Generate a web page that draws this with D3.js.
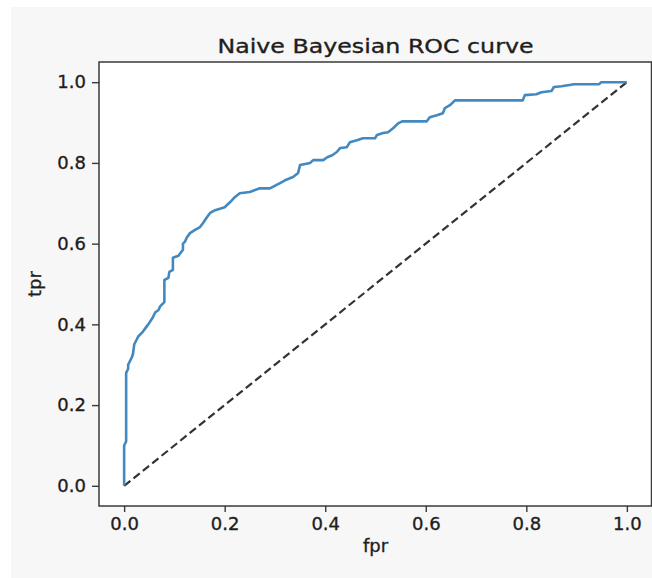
<!DOCTYPE html>
<html lang="en">
  <head>
    <meta charset="UTF-8" />
    <title>Naive Bayesian ROC curve</title>
    <script src="https://cdn.jsdelivr.net/npm/d3@7/dist/d3.min.js"></script>
    <style>
      body { margin: 0; background: #ffffff; }
      text { font-family: "DejaVu Sans", sans-serif; fill: #1e1e1e; stroke: #1e1e1e; stroke-width: 0.35px; }
    </style>
  </head>
  <body>
    <script>
      // ROC points (fpr, tpr)
      var fpr = [0, 0, 0.004, 0.004, 0.008, 0.008, 0.012, 0.016, 0.018, 0.02,
        0.024, 0.028, 0.036, 0.042, 0.048, 0.056, 0.062, 0.068, 0.072, 0.08,
        0.08, 0.088, 0.09, 0.097, 0.097, 0.108, 0.117, 0.117, 0.121, 0.125,
        0.131, 0.141, 0.151, 0.157, 0.165, 0.171, 0.181, 0.2, 0.211, 0.22,
        0.23, 0.25, 0.27, 0.29, 0.31, 0.32, 0.336, 0.346, 0.35, 0.37,
        0.376, 0.396, 0.404, 0.414, 0.423, 0.43, 0.443, 0.449, 0.463, 0.475,
        0.499, 0.503, 0.515, 0.525, 0.535, 0.545, 0.553, 0.602, 0.608, 0.622,
        0.634, 0.638, 0.648, 0.658, 0.793, 0.797, 0.82, 0.83, 0.85, 0.855,
        0.87, 0.895, 0.945, 0.949, 1.0];
      var tpr = [0, 0.1, 0.11, 0.28, 0.29, 0.3, 0.31, 0.32, 0.33, 0.35,
        0.36, 0.37, 0.38, 0.39, 0.4, 0.415, 0.43, 0.435, 0.445, 0.455,
        0.51, 0.515, 0.53, 0.535, 0.565, 0.57, 0.585, 0.6, 0.605, 0.616,
        0.626, 0.634, 0.641, 0.651, 0.666, 0.676, 0.683, 0.69, 0.703, 0.715,
        0.725, 0.728, 0.737, 0.737, 0.75, 0.757, 0.765, 0.775, 0.795, 0.8,
        0.807, 0.807, 0.814, 0.819, 0.827, 0.837, 0.839, 0.851, 0.856, 0.861,
        0.861, 0.869, 0.874, 0.876, 0.886, 0.898, 0.903, 0.903, 0.913, 0.918,
        0.923, 0.936, 0.943, 0.955, 0.955, 0.968, 0.97, 0.975, 0.978, 0.988,
        0.99, 0.995, 0.995, 1.0, 1.0];
      var chance = [0, 1];
      var ticks = [0, 0.2, 0.4, 0.6, 0.8, 1.0];

      var W = 652, H = 578;
      var mLeft = 99, mRight = 652, mTop = 62, mBottom = 506;

      var svg = d3.select("body").append("svg")
        .attr("width", W)
        .attr("height", H);

      // light grey figure background
      svg.append("rect")
        .attr("x", 11).attr("y", 7)
        .attr("width", W - 11).attr("height", H - 7)
        .attr("fill", "#f7f7f7");

      svg.append("rect")
        .attr("x", mLeft).attr("y", mTop)
        .attr("width", mRight - mLeft).attr("height", mBottom - mTop)
        .attr("fill", "#ffffff");

      var x = d3.scaleLinear().domain([-0.05, 1.05]).range([mLeft, mRight]);
      var y = d3.scaleLinear().domain([-0.05, 1.05]).range([mBottom, mTop]);

      var xAxis = svg.append("g")
        .attr("transform", "translate(0," + mBottom + ")")
        .call(d3.axisBottom(x).tickValues(ticks).tickFormat(d3.format(".1f"))
          .tickSize(6).tickSizeOuter(0).tickPadding(5));
      var yAxis = svg.append("g")
        .attr("transform", "translate(" + mLeft + ",0)")
        .call(d3.axisLeft(y).tickValues(ticks).tickFormat(d3.format(".1f"))
          .tickSize(7).tickSizeOuter(0).tickPadding(6));

      [xAxis, yAxis].forEach(function (g) {
        g.select(".domain").remove();
        g.selectAll("line").attr("stroke", "#3a3a3a").attr("stroke-width", 1.4);
        g.selectAll("text").attr("font-size", 18).attr("fill", "#1e1e1e")
          .attr("font-family", "DejaVu Sans");
      });

      // chance line
      svg.append("line")
        .attr("x1", x(chance[0])).attr("y1", y(chance[0]))
        .attr("x2", x(chance[1])).attr("y2", y(chance[1]))
        .attr("stroke", "#333")
        .attr("stroke-width", 2.2)
        .attr("stroke-dasharray", "8,4");

      var pts = fpr.map(function (d, i) { return [d, tpr[i]]; });
      var line = d3.line()
        .x(function (d) { return x(d[0]); })
        .y(function (d) { return y(d[1]); });

      svg.append("path")
        .datum(pts)
        .attr("d", line)
        .attr("fill", "none")
        .attr("stroke", "#4189c0")
        .attr("stroke-width", 2.6)
        .attr("stroke-linejoin", "round");

      // frame
      svg.append("rect")
        .attr("x", mLeft).attr("y", mTop)
        .attr("width", mRight - mLeft - 0.5).attr("height", mBottom - mTop)
        .attr("fill", "none")
        .attr("stroke", "#3a3a3a")
        .attr("stroke-width", 1.5);

      svg.append("text")
        .attr("x", (mLeft + mRight) / 2)
        .attr("y", 53)
        .attr("text-anchor", "middle")
        .attr("font-size", 20)
        .attr("textLength", 316)
        .attr("lengthAdjust", "spacingAndGlyphs")
        .text("Naive Bayesian ROC curve");

      svg.append("text")
        .attr("x", (mLeft + mRight) / 2)
        .attr("y", 552)
        .attr("text-anchor", "middle")
        .attr("font-size", 18)
        .text("fpr");

      svg.append("text")
        .attr("transform", "translate(41," + (mTop + mBottom) / 2 + ") rotate(-90)")
        .attr("text-anchor", "middle")
        .attr("font-size", 18)
        .text("tpr");
    </script>
  </body>
</html>
